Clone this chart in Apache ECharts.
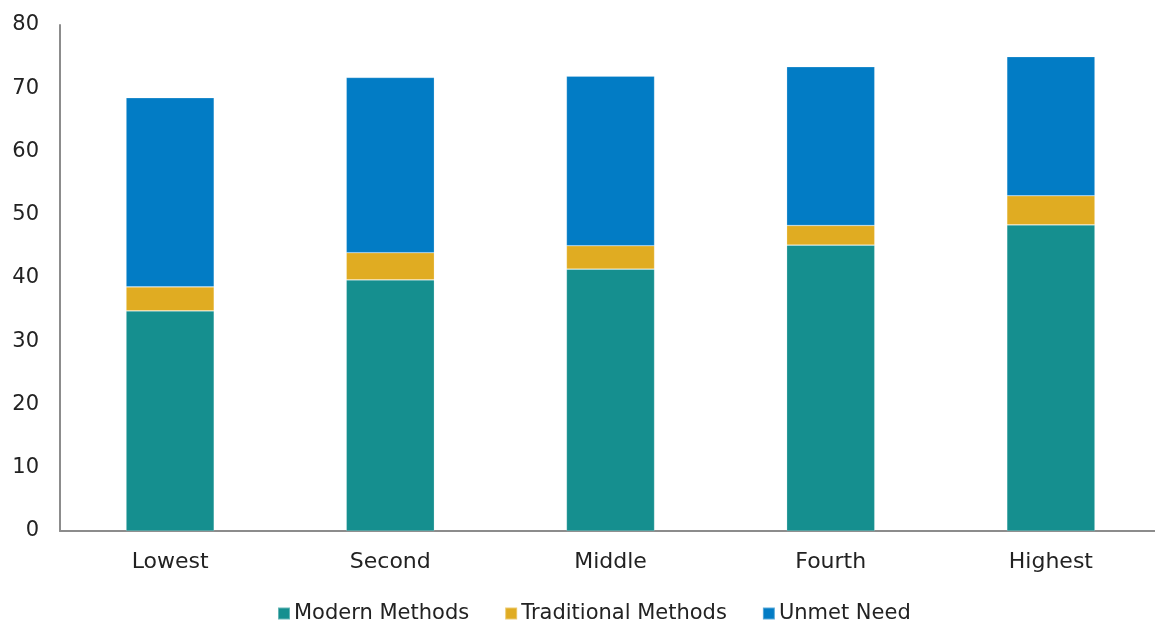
<!DOCTYPE html>
<html>
<head>
<meta charset="utf-8">
<script src="https://cdn.jsdelivr.net/npm/echarts@6/dist/echarts.min.js"></script>
<style>html,body{margin:0;padding:0;background:#fff}#c{width:1155px;height:623px}</style>
</head>
<body>
<div id="c"></div>
<script>
const categories = ["Lowest", "Second", "Middle", "Fourth", "Highest"];
const modernMethods = [34.8, 39.7, 41.4, 45.2, 48.4];
const traditionalMethods = [3.8, 4.3, 3.7, 3.1, 4.6];
const unmetNeed = [29.9, 27.7, 26.8, 25.1, 22.0];
const yTicks = { min: 0, max: 80, interval: 10 };

const font = "'DejaVu Sans', sans-serif";
const chart = echarts.init(document.getElementById('c'), null, { renderer: 'canvas' });
function ser(name, data, color) {
  return {
    name, type: 'bar', stack: 'total', data, barWidth: '40%',
    itemStyle: { color, borderColor: 'rgba(255,255,255,0.35)', borderWidth: 0.6 },
    emphasis: { disabled: true }
  };
}
chart.setOption({
  animation: false,
  grid: { left: 60, width: 1101, top: 25, bottom: 92, containLabel: false, outerBoundsMode: 'none' },
  legend: {
    top: 598, left: 272, itemWidth: 12, itemHeight: 12, itemGap: 35,
    icon: 'rect',
    textStyle: { fontFamily: font, fontSize: 21, color: '#222', padding: [0, 0, 0, -1] },
    data: ['Modern Methods', 'Traditional Methods', 'Unmet Need']
  },
  xAxis: {
    type: 'category', data: categories,
    axisLine: { lineStyle: { color: '#8c8c8c', width: 2 } },
    axisTick: { show: false },
    axisLabel: { fontFamily: font, fontSize: 22, color: '#222', margin: 20 }
  },
  yAxis: {
    type: 'value', min: yTicks.min, max: yTicks.max, interval: yTicks.interval,
    axisLine: { show: true, lineStyle: { color: '#8c8c8c', width: 2 } },
    axisTick: { show: false },
    splitLine: { show: false },
    axisLabel: { fontFamily: font, fontSize: 21, color: '#222', margin: 21, padding: [4, 0, 0, 0] }
  },
  series: [
    ser('Modern Methods', modernMethods, '#158f8f'),
    ser('Traditional Methods', traditionalMethods, '#e0ac22'),
    ser('Unmet Need', unmetNeed, '#027cc5')
  ]
});
</script>
</body>
</html>
